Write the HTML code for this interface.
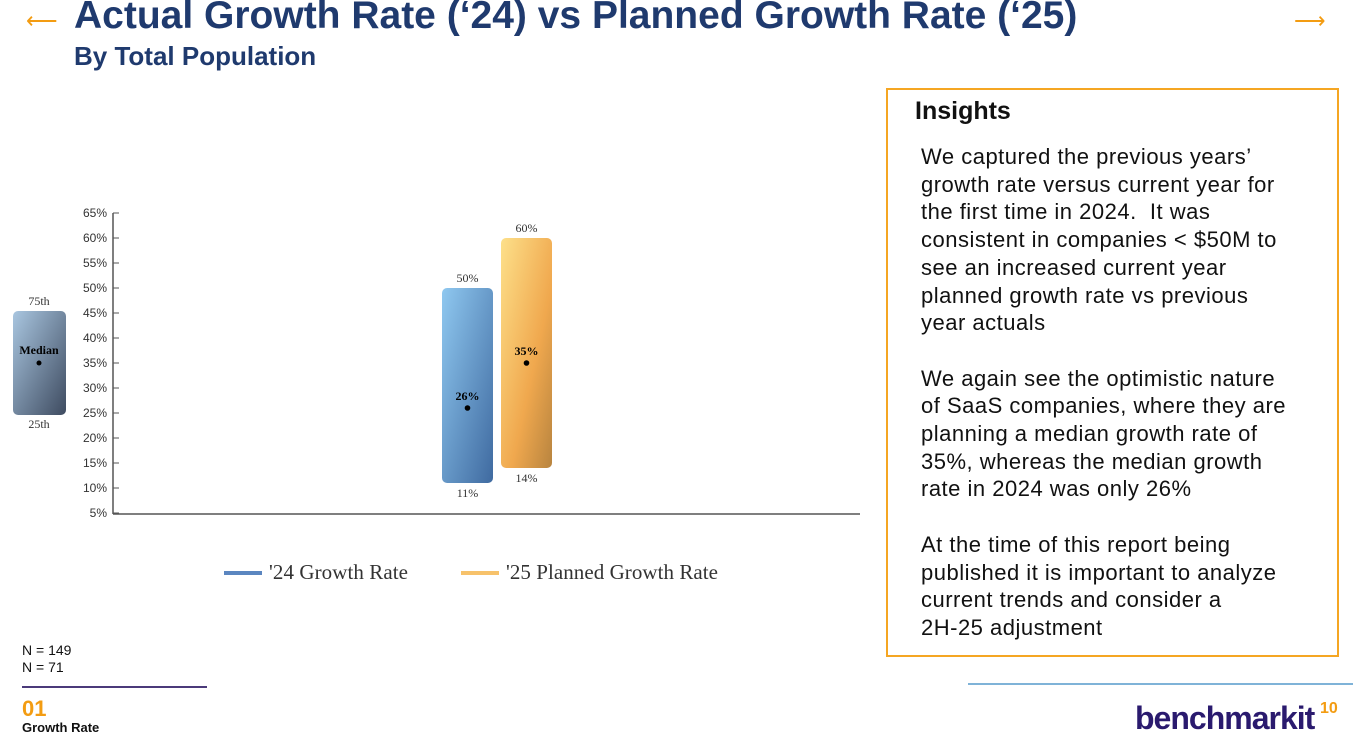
<!DOCTYPE html>
<html><head><meta charset="utf-8"><style>
body{margin:0;width:1357px;height:746px;background:#fff;position:relative;overflow:hidden;font-family:"Liberation Sans",sans-serif}
.abs{position:absolute}
</style></head><body>
<div class="abs" style="left:26px;top:8px;color:#f39c12;font-size:22px">⟵</div>
<div class="abs" style="left:74px;top:-6px;font-size:39px;font-weight:bold;color:#1f3a6e;white-space:nowrap">Actual Growth Rate (‘24) vs Planned Growth Rate (‘25)</div>
<div class="abs" style="left:1294px;top:8px;color:#f39c12;font-size:22px">⟶</div>
<div class="abs" style="left:74px;top:41px;font-size:26px;font-weight:bold;color:#1f3a6e">By Total Population</div>

<svg class="abs" style="left:0;top:0" width="880" height="620">
<defs>
<linearGradient id="gb" x1="0" y1="0" x2="1" y2="1"><stop offset="0" stop-color="#8fc8f0"/><stop offset="1" stop-color="#3f6aa0"/></linearGradient>
<linearGradient id="go" x1="0" y1="0" x2="1" y2="1"><stop offset="0" stop-color="#fde08a"/><stop offset="0.6" stop-color="#f0a84e"/><stop offset="1" stop-color="#b8843f"/></linearGradient>
<linearGradient id="gk" x1="0" y1="0" x2="1" y2="1"><stop offset="0" stop-color="#a9c6e0"/><stop offset="1" stop-color="#3e4b60"/></linearGradient>
</defs>
<g>
<rect x="13" y="311" width="53" height="104" rx="5" fill="url(#gk)"/>
<text x="39" y="305" font-family="Liberation Serif" font-size="12" text-anchor="middle" fill="#333">75th</text>
<text x="39" y="354" font-family="Liberation Serif" font-size="12" font-weight="bold" text-anchor="middle">Median</text>
<circle cx="39" cy="363" r="2.5" fill="#000"/>
<text x="39" y="428" font-family="Liberation Serif" font-size="12" text-anchor="middle" fill="#333">25th</text>
</g>
<g id="axis"></g><g id="bars"></g>
<g>
<rect x="224" y="571" width="38" height="4" fill="#5b86c0"/>
<text x="269" y="579" font-family="Liberation Serif" font-size="21" fill="#333" textLength="139">'24 Growth Rate</text>
<rect x="461" y="571" width="38" height="4" fill="#f7c26b"/>
<text x="506" y="579" font-family="Liberation Serif" font-size="21" fill="#333" textLength="212">'25 Planned Growth Rate</text>
</g>
</svg>

<div class="abs" style="left:886px;top:88px;width:453px;height:569px;border:2px solid #f5a623;box-sizing:border-box"></div>
<div class="abs" style="left:915px;top:97px;font-size:25px;font-weight:bold;color:#111">Insights</div>
<div class="abs" style="left:921px;top:143px;width:410px;font-size:22px;letter-spacing:0.5px;line-height:27.7px;color:#111;white-space:nowrap">We captured the previous years’<br>growth rate versus current year for<br>the first time in 2024.&nbsp; It was<br>consistent in companies &lt; $50M to<br>see an increased current year<br>planned growth rate vs previous<br>year actuals<br><br>We again see the optimistic nature<br>of SaaS companies, where they are<br>planning a median growth rate of<br>35%, whereas the median growth<br>rate in 2024 was only 26%<br><br>At the time of this report being<br>published it is important to analyze<br>current trends and consider a<br>2H-25 adjustment</div>

<div class="abs" style="left:22px;top:642px;font-size:14px;line-height:17px;color:#111">N = 149<br>N = 71</div>
<div class="abs" style="left:22px;top:686px;width:185px;height:2px;background:#4b3a7a"></div>
<div class="abs" style="left:22px;top:696px;font-size:22px;font-weight:bold;color:#f39c12">01</div>
<div class="abs" style="left:22px;top:720px;font-size:13px;font-weight:bold;color:#111">Growth Rate</div>
<div class="abs" style="left:968px;top:683px;width:385px;height:2px;background:#7fb3d8"></div>
<div class="abs" style="left:1135px;top:700px;font-size:32px;font-weight:bold;color:#2a1a6e;letter-spacing:-1px">benchmarkit</div>
<div class="abs" style="left:1320px;top:700px;font-size:16px;font-weight:bold;color:#f39c12">10</div>

<script>
const ticks=[5,10,15,20,25,30,35,40,45,50,55,60,65];
const series=["'24 Growth Rate","'25 Planned Growth Rate"];
const p25=[11,14];
const medians=[26,35];
const p75=[50,60];
const NS="http://www.w3.org/2000/svg";
const y=v=>513-(v-5)*5;
const x0=442, bw=51, gap=8;
function mk(t,a,p){const e=document.createElementNS(NS,t);for(const k in a)e.setAttribute(k,a[k]);p.appendChild(e);return e;}
const ax=document.getElementById('axis');
mk('line',{x1:113,y1:213,x2:113,y2:514,stroke:'#555','stroke-width':1.5},ax);
mk('line',{x1:113,y1:514,x2:860,y2:514,stroke:'#555','stroke-width':1.5},ax);
ticks.forEach(t=>{
 const tk=mk('line',{x1:113,x2:119,y1:y(t),y2:y(t),stroke:'#555'},ax);
 
 
 const tx=mk('text',{x:107,y:y(t)+4,'text-anchor':'end','font-size':12,fill:'#333'},ax);
 tx.textContent=t+'%';
 
 
});
const bars=document.getElementById('bars');
const fills=['url(#gb)','url(#go)'];
series.forEach((s,i)=>{
 const bx=x0+i*(bw+gap), cx=bx+bw/2;
 const r=mk('rect',{x:bx,y:y(p75[i]),width:bw,height:y(p25[i])-y(p75[i]),rx:5,fill:fills[i]},bars);
 
 
 const tt=mk('text',{x:cx,y:y(p75[i])-6,'text-anchor':'middle','font-family':'Liberation Serif','font-size':12,fill:'#333'},bars);tt.textContent=p75[i]+'%';
 
 
 const tb=mk('text',{x:cx,y:y(p25[i])+14,'text-anchor':'middle','font-family':'Liberation Serif','font-size':12,fill:'#333'},bars);tb.textContent=p25[i]+'%';
 
 
 const d=mk('circle',{cx:cx,cy:y(medians[i]),r:2.8,fill:'#000'},bars);
 
 
 const tm=mk('text',{x:cx,y:y(medians[i])-8,'text-anchor':'middle','font-family':'Liberation Serif','font-size':12,'font-weight':'bold'},bars);tm.textContent=medians[i]+'%';
 
 
});
</script>
</body></html>
